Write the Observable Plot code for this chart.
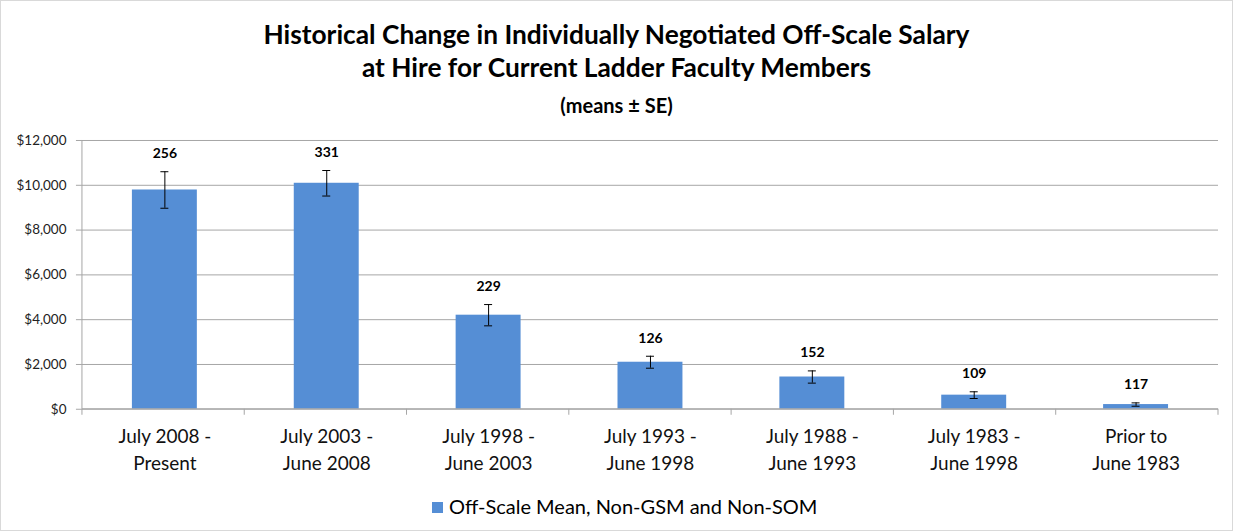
<!DOCTYPE html>
<html><head><meta charset="utf-8">
<script src="https://cdn.jsdelivr.net/npm/d3@7"></script>
<script src="https://cdn.jsdelivr.net/npm/@observablehq/plot@0.6"></script>
<style>
body{margin:0;background:#fff;}
#frame{position:relative;box-sizing:border-box;width:1233px;height:531px;border:1px solid #d9d9d9;font-family:Lato,"Open Sans",sans-serif;color:#000;overflow:hidden;background:#fff;}
#title{position:absolute;top:17px;left:0;width:100%;text-align:center;font-weight:bold;font-size:26.3px;line-height:33px;}
#sub{position:absolute;top:92px;left:0;width:100%;text-align:center;font-weight:bold;font-size:20px;line-height:24px;}
#chart{position:absolute;top:123px;left:-1px;}
#legend{position:absolute;top:493px;left:431px;font-size:20px;line-height:24px;white-space:nowrap;}
#legend .sw{display:inline-block;width:11px;height:11px;background:#558ED5;margin-right:6px;vertical-align:middle;position:relative;top:-1px;}
</style>
</head><body>
<div id="frame">
  <div id="title">Historical Change in Individually Negotiated Off-Scale Salary<br>at Hire for Current Ladder Faculty Members</div>
  <div id="sub">(means ± SE)</div>
  <div id="chart"></div>
  <div id="legend"><span class="sw"></span>Off-Scale Mean, Non-GSM and Non-SOM</div>
</div>
<script>
const categories = ["July 2008 -\nPresent", "July 2003 -\nJune 2008", "July 1998 -\nJune 2003", "July 1993 -\nJune 1998", "July 1988 -\nJune 1993", "July 1983 -\nJune 1998", "Prior to\nJune 1983"];
const means = [9790, 10090, 4200, 2100, 1440, 630, 210];
const ses = [815, 570, 475, 267, 273, 150, 75];
const counts = [256, 331, 229, 126, 152, 109, 117];
const yTicks = [0, 2000, 4000, 6000, 8000, 10000, 12000];

const data = categories.map((c, i) => ({cat: c, mean: means[i], se: ses[i], n: counts[i]}));

const frameLines = (index, scales, values, dims, context) => {
  const g = d3.select(context.document.createElementNS("http://www.w3.org/2000/svg", "g"));
  const {marginLeft, marginRight, marginTop, marginBottom, width, height} = dims;
  const n = categories.length;
  const x0 = marginLeft, x1 = width - marginRight, yb = height - marginBottom;
  g.append("line").attr("x1", x0).attr("x2", x0).attr("y1", marginTop).attr("y2", yb).attr("stroke", "#a6a6a6");
  g.append("line").attr("x1", x0).attr("x2", x1).attr("y1", yb).attr("y2", yb).attr("stroke", "#a6a6a6");
  for (let i = 0; i <= n; i++) {
    const xx = x0 + i * (x1 - x0) / n;
    g.append("line").attr("x1", xx).attr("x2", xx).attr("y1", yb).attr("y2", yb + 6).attr("stroke", "#a6a6a6");
  }
  return g.node();
};

const chart = Plot.plot({
  width: 1233,
  height: 361,
  marginTop: 16,
  marginBottom: 76,
  marginLeft: 82,
  marginRight: 14,
  style: {fontFamily: "Lato, 'Open Sans', sans-serif", background: "transparent"},
  x: {domain: categories, paddingInner: 0.6, paddingOuter: 0.3, label: null},
  y: {domain: [0, 12000], label: null},
  marks: [
    Plot.gridY(yTicks, {stroke: "#a6a6a6", strokeOpacity: 1}),
    Plot.axisY({ticks: yTicks, tickFormat: d3.format("$,"), tickSize: 6, tickPadding: 10, fontSize: 13.5, stroke: "#a6a6a6", fill: "#222", label: null}),
    Plot.axisX({tickSize: 0, tickPadding: 15, fontSize: 19, lineHeight: 1.42, fill: "#111", label: null}),
    Plot.barY(data, {x: "cat", y: "mean", fill: "#558ED5"}),
    frameLines,
    Plot.ruleX(data, {x: "cat", y1: d => d.mean - d.se, y2: d => d.mean + d.se, stroke: "#000", strokeWidth: 1}),
    Plot.tickY(data, {x: "cat", y: d => d.mean + d.se, stroke: "#000", insetLeft: 28.5, insetRight: 28.5}),
    Plot.tickY(data, {x: "cat", y: d => d.mean - d.se, stroke: "#000", insetLeft: 28.5, insetRight: 28.5}),
    Plot.text(data, {x: "cat", y: d => d.mean + d.se, text: "n", dy: -18, fontWeight: "bold", fontSize: 14, fill: "#000"})
  ]
});
document.getElementById("chart").appendChild(chart);
</script>
</body></html>
